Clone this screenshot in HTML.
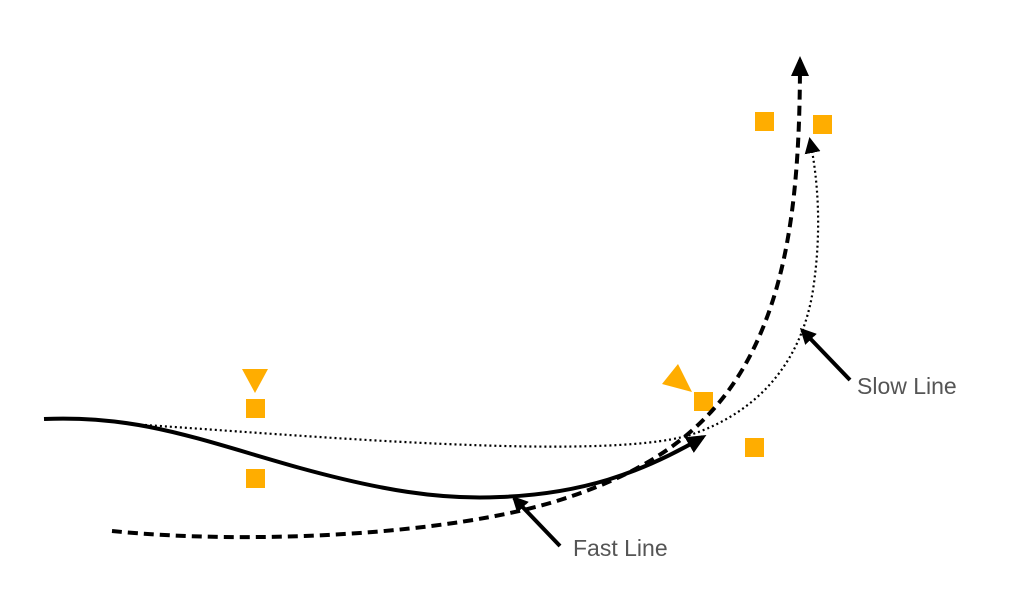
<!DOCTYPE html>
<html><head><meta charset="utf-8"><style>
html,body{margin:0;padding:0;background:#fff;width:1023px;height:590px;overflow:hidden}
svg{display:block}
text{font-family:"Liberation Sans",sans-serif;font-size:23px;fill:#555}
</style></head><body>
<svg width="1023" height="590" viewBox="0 0 1023 590">
<defs>
<marker id="b" markerWidth="16" markerHeight="16" refX="13" refY="8" orient="auto" markerUnits="userSpaceOnUse" viewBox="0 0 16 16"><path d="M0,0 L16,8 L0,16 Z" fill="#000"/></marker>
<marker id="c" markerWidth="20" markerHeight="18" refX="16" refY="9" orient="auto" markerUnits="userSpaceOnUse" viewBox="0 0 20 18"><path d="M0,0 L20,9 L0,18 Z" fill="#000"/></marker>
</defs>
<g fill="#ffad00">
<rect x="755" y="112" width="19" height="19"/>
<rect x="813" y="115" width="19" height="19"/>
<rect x="694" y="392" width="19" height="19"/>
<rect x="745" y="438" width="19" height="19"/>
<rect x="246" y="399" width="19" height="19"/>
<rect x="246" y="469" width="19" height="19"/>
<path d="M242,369 L268,369 L255,393 Z"/>
<path d="M678,364 L662,384 L692,392 Z"/>
</g>
<path d="M130,424 C300,435 600,462 690,435 C760,412 802,360 813,290 C822,230 818,180 810,140" fill="none" stroke="#000" stroke-width="2.2" stroke-dasharray="2 3" marker-end="url(#b)"/>
<path d="M112,531 C250,545 450,535 560,500 C660,468 725,420 762,330 C792,258 800,170 800,60" fill="none" stroke="#000" stroke-width="4" stroke-dasharray="10 6" marker-end="url(#c)"/>
<path d="M44,419 C140,415 200,440 300,468 C380,490 440,500 500,497 C580,494 640,474 703,437" fill="none" stroke="#000" stroke-width="4" marker-end="url(#c)"/>
<path d="M560,546 L514,498" stroke="#000" stroke-width="4" marker-end="url(#b)"/>
<path d="M850,380 L802,330" stroke="#000" stroke-width="4" marker-end="url(#b)"/>
<text x="857" y="394">Slow Line</text>
<text x="573" y="556">Fast Line</text>
</svg>
</body></html>
